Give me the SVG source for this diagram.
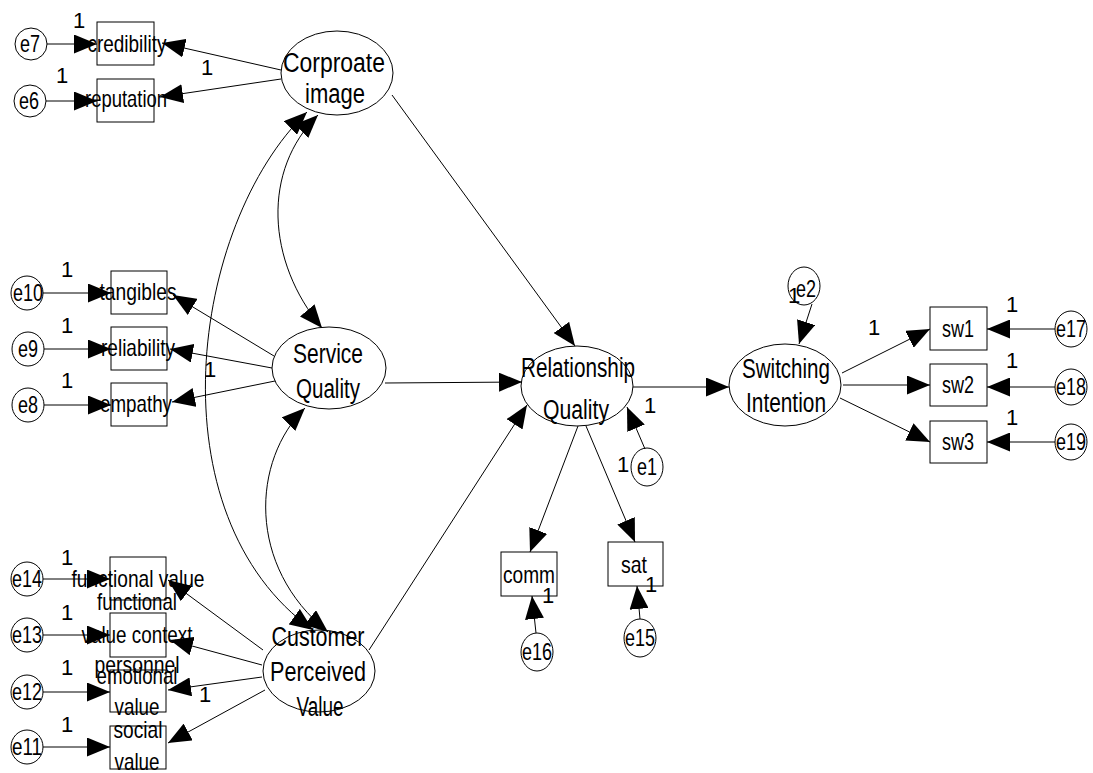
<svg xmlns="http://www.w3.org/2000/svg" width="1093" height="773" viewBox="0 0 1093 773">
<style>
.n{fill:#fff;stroke:#000;stroke-width:1}
.c{fill:none;stroke:#000;stroke-width:1}
.a{marker-end:url(#ah)}
.b{marker-start:url(#ah);marker-end:url(#ah)}
text{font-family:"Liberation Sans",Arial,sans-serif;fill:#000;text-anchor:middle}
.lt{font-size:27px}
.st{font-size:24px}
.one{font-size:22px}
</style>
<defs>
<marker id="ah" markerUnits="userSpaceOnUse" viewBox="0 0 23 19" refX="23" refY="9.5" markerWidth="23" markerHeight="19" orient="auto-start-reverse">
<path d="M0,0 L23,9.5 L0,19 Z" fill="#000"/>
</marker>
</defs>
<rect width="1093" height="773" fill="#fff"/>

<g id="corporate-image"><ellipse class="n" cx="337" cy="73" rx="56" ry="42"/>
<text class="lt" x="334" y="72" textLength="102" lengthAdjust="spacingAndGlyphs">Corproate</text>
<text class="lt" x="335" y="103" textLength="60" lengthAdjust="spacingAndGlyphs">image</text></g>
<g id="service-quality"><ellipse class="n" cx="329" cy="368" rx="57" ry="41"/>
<text class="lt" x="328" y="363" textLength="70" lengthAdjust="spacingAndGlyphs">Service</text>
<text class="lt" x="328" y="398" textLength="64" lengthAdjust="spacingAndGlyphs">Quality</text></g>
<g id="customer-perceived-value"><ellipse class="n" cx="319" cy="671" rx="56" ry="41"/>
<text class="lt" x="318" y="646" textLength="93" lengthAdjust="spacingAndGlyphs">Customer</text>
<text class="lt" x="318" y="681" textLength="96" lengthAdjust="spacingAndGlyphs">Perceived</text>
<text class="lt" x="320" y="716" textLength="47" lengthAdjust="spacingAndGlyphs">Value</text></g>
<g id="relationship-quality"><ellipse class="n" cx="577" cy="386" rx="56" ry="40"/>
<text class="lt" x="578" y="377" textLength="114" lengthAdjust="spacingAndGlyphs">Relationship</text>
<text class="lt" x="576" y="419" textLength="66" lengthAdjust="spacingAndGlyphs">Quality</text></g>
<g id="switching-intention"><ellipse class="n" cx="785" cy="385" rx="56" ry="41"/>
<text class="lt" x="786" y="378" textLength="88" lengthAdjust="spacingAndGlyphs">Switching</text>
<text class="lt" x="786" y="412" textLength="80" lengthAdjust="spacingAndGlyphs">Intention</text></g>

<g id="credibility"><rect class="n" x="97" y="22" width="57" height="43"/><text class="st" x="127" y="52" textLength="79" lengthAdjust="spacingAndGlyphs">credibility</text></g>
<g id="reputation"><rect class="n" x="97" y="79" width="57" height="43"/><text class="st" x="126" y="107" textLength="82" lengthAdjust="spacingAndGlyphs">reputation</text></g>
<g id="tangibles"><rect class="n" x="111" y="271" width="56" height="43"/><text class="st" x="138" y="300" textLength="77" lengthAdjust="spacingAndGlyphs">tangibles</text></g>
<g id="reliability"><rect class="n" x="111" y="327" width="56" height="43"/><text class="st" x="138" y="356" textLength="74" lengthAdjust="spacingAndGlyphs">reliability</text></g>
<g id="empathy"><rect class="n" x="111" y="383" width="56" height="43"/><text class="st" x="136" y="412" textLength="72" lengthAdjust="spacingAndGlyphs">empathy</text></g>
<g id="functional-value"><rect class="n" x="110" y="557" width="56" height="43"/><text class="st" x="138" y="587" textLength="133" lengthAdjust="spacingAndGlyphs">functional value</text></g>
<g id="functional-value-context"><rect class="n" x="110" y="613" width="56" height="44"/><text class="st" x="137" y="610" textLength="80" lengthAdjust="spacingAndGlyphs">functional</text><text class="st" x="137" y="643" textLength="111" lengthAdjust="spacingAndGlyphs">value context</text><text class="st" x="137" y="673" textLength="85" lengthAdjust="spacingAndGlyphs">personnel</text></g>
<g id="emotional-value"><rect class="n" x="110" y="670" width="56" height="42" fill-opacity="0"/><text class="st" x="137" y="684" textLength="81" lengthAdjust="spacingAndGlyphs">emotional</text><text class="st" x="137" y="715" textLength="45" lengthAdjust="spacingAndGlyphs">value</text></g>
<g id="social-value"><rect class="n" x="110" y="726" width="56" height="43" fill-opacity="0"/><text class="st" x="138" y="738" textLength="49" lengthAdjust="spacingAndGlyphs">social</text><text class="st" x="137" y="770" textLength="45" lengthAdjust="spacingAndGlyphs">value</text></g>
<g id="comm"><rect class="n" x="501" y="552" width="56" height="44"/><text class="st" x="529" y="583" textLength="52" lengthAdjust="spacingAndGlyphs">comm</text></g>
<g id="sat"><rect class="n" x="608" y="542" width="55" height="44"/><text class="st" x="634" y="573" textLength="26" lengthAdjust="spacingAndGlyphs">sat</text></g>
<g id="sw1"><rect class="n" x="930" y="307" width="57" height="43"/><text class="st" x="958" y="337" textLength="32" lengthAdjust="spacingAndGlyphs">sw1</text></g>
<g id="sw2"><rect class="n" x="930" y="364" width="57" height="42"/><text class="st" x="958" y="393" textLength="32" lengthAdjust="spacingAndGlyphs">sw2</text></g>
<g id="sw3"><rect class="n" x="930" y="421" width="57" height="42"/><text class="st" x="958" y="450" textLength="32" lengthAdjust="spacingAndGlyphs">sw3</text></g>

<g id="e7"><ellipse class="n" cx="31" cy="44" rx="16" ry="16"/><text class="st" x="30" y="52" textLength="20" lengthAdjust="spacingAndGlyphs">e7</text></g>
<g id="e6"><ellipse class="n" cx="30" cy="101" rx="16" ry="16"/><text class="st" x="29" y="109" textLength="20" lengthAdjust="spacingAndGlyphs">e6</text></g>
<g id="e10"><ellipse class="n" cx="27" cy="293" rx="16" ry="17"/><text class="st" x="28" y="301" textLength="30" lengthAdjust="spacingAndGlyphs">e10</text></g>
<g id="e9"><ellipse class="n" cx="28" cy="349" rx="16" ry="17"/><text class="st" x="28" y="357" textLength="20" lengthAdjust="spacingAndGlyphs">e9</text></g>
<g id="e8"><ellipse class="n" cx="28" cy="405" rx="16" ry="17"/><text class="st" x="28" y="413" textLength="20" lengthAdjust="spacingAndGlyphs">e8</text></g>
<g id="e14"><ellipse class="n" cx="27" cy="579" rx="16" ry="17"/><text class="st" x="27" y="587" textLength="30" lengthAdjust="spacingAndGlyphs">e14</text></g>
<g id="e13"><ellipse class="n" cx="27" cy="635" rx="16" ry="17"/><text class="st" x="27" y="643" textLength="30" lengthAdjust="spacingAndGlyphs">e13</text></g>
<g id="e12"><ellipse class="n" cx="27" cy="692" rx="16" ry="17"/><text class="st" x="27" y="700" textLength="30" lengthAdjust="spacingAndGlyphs">e12</text></g>
<g id="e11"><ellipse class="n" cx="27" cy="747" rx="16" ry="17"/><text class="st" x="27" y="755" textLength="30" lengthAdjust="spacingAndGlyphs">e11</text></g>
<g id="e1"><ellipse class="n" cx="647" cy="467" rx="16" ry="19"/><text class="st" x="647" y="475" textLength="20" lengthAdjust="spacingAndGlyphs">e1</text></g>
<g id="e16"><ellipse class="n" cx="537" cy="652" rx="16" ry="19"/><text class="st" x="537" y="660" textLength="30" lengthAdjust="spacingAndGlyphs">e16</text></g>
<g id="e15"><ellipse class="n" cx="640" cy="638" rx="16" ry="19"/><text class="st" x="640" y="646" textLength="30" lengthAdjust="spacingAndGlyphs">e15</text></g>
<g id="e2"><ellipse class="n" cx="804" cy="286" rx="16" ry="19"/><text class="st" x="806" y="297" textLength="20" lengthAdjust="spacingAndGlyphs">e2</text></g>
<g id="e17"><ellipse class="n" cx="1071" cy="329" rx="16" ry="18"/><text class="st" x="1071" y="337" textLength="30" lengthAdjust="spacingAndGlyphs">e17</text></g>
<g id="e18"><ellipse class="n" cx="1071" cy="387" rx="16" ry="18"/><text class="st" x="1071" y="395" textLength="30" lengthAdjust="spacingAndGlyphs">e18</text></g>
<g id="e19"><ellipse class="n" cx="1071" cy="442" rx="16" ry="18"/><text class="st" x="1071" y="450" textLength="30" lengthAdjust="spacingAndGlyphs">e19</text></g>

<g id="connectors">
<path class="c a" d="M47,44 L97,44"/>
<path class="c a" d="M46,101 L97,101"/>
<path class="c a" d="M281,70 L162,43"/>
<path class="c a" d="M281,79 L160,97"/>
<path class="c a" d="M43,293 L111,293"/>
<path class="c a" d="M44,349 L111,349"/>
<path class="c a" d="M44,405 L111,405"/>
<path class="c a" d="M274,356 L173,295"/>
<path class="c a" d="M272,368 L170,349"/>
<path class="c a" d="M275,381 L172,402"/>
<path class="c a" d="M43,579 L110,579"/>
<path class="c a" d="M43,635 L110,635"/>
<path class="c a" d="M43,692 L110,692"/>
<path class="c a" d="M43,747 L110,747"/>
<path class="c a" d="M263,650 L168,580"/>
<path class="c a" d="M262,665 L170,640"/>
<path class="c a" d="M262,677 L168,690"/>
<path class="c a" d="M265,690 L168,743"/>
<path class="c b" d="M307,112 C190,225 152,515 313,630"/>
<path class="c b" d="M318,115 C262,170 266,261 322,328"/>
<path class="c b" d="M305,408 C252,460 246,566 328,632"/>
<path class="c a" d="M392,95 L575,346"/>
<path class="c a" d="M385,383 L522,382"/>
<path class="c a" d="M369,650 L527,405"/>
<path class="c a" d="M633,387 L729,387"/>
<path class="c a" d="M645,449 L627,407"/>
<path class="c a" d="M578,426 L530,552"/>
<path class="c a" d="M586,426 L635,542"/>
<path class="c a" d="M536,633 L532,596"/>
<path class="c a" d="M640,619 L637,586"/>
<path class="c a" d="M812,304 L799,344"/>
<path class="c a" d="M842,373 L930,329"/>
<path class="c a" d="M843,385 L930,385"/>
<path class="c a" d="M840,398 L930,442"/>
<path class="c a" d="M1055,329 L987,329"/>
<path class="c a" d="M1055,387 L987,387"/>
<path class="c a" d="M1055,442 L987,442"/>
</g>

<g id="labels">
<text class="one" x="79" y="28">1</text>
<text class="one" x="207" y="75">1</text>
<text class="one" x="62" y="83">1</text>
<text class="one" x="67" y="277">1</text>
<text class="one" x="67" y="333">1</text>
<text class="one" x="67" y="388">1</text>
<text class="one" x="210" y="377">1</text>
<text class="one" x="67" y="565">1</text>
<text class="one" x="67" y="620">1</text>
<text class="one" x="67" y="675">1</text>
<text class="one" x="67" y="732">1</text>
<text class="one" x="205" y="702">1</text>
<text class="one" x="650" y="413">1</text>
<text class="one" x="623" y="472">1</text>
<text class="one" x="548" y="603">1</text>
<text class="one" x="651" y="592">1</text>
<text class="one" x="794" y="303">1</text>
<text class="one" x="874" y="335">1</text>
<text class="one" x="1012" y="312">1</text>
<text class="one" x="1012" y="368">1</text>
<text class="one" x="1012" y="425">1</text>
</g>
</svg>
